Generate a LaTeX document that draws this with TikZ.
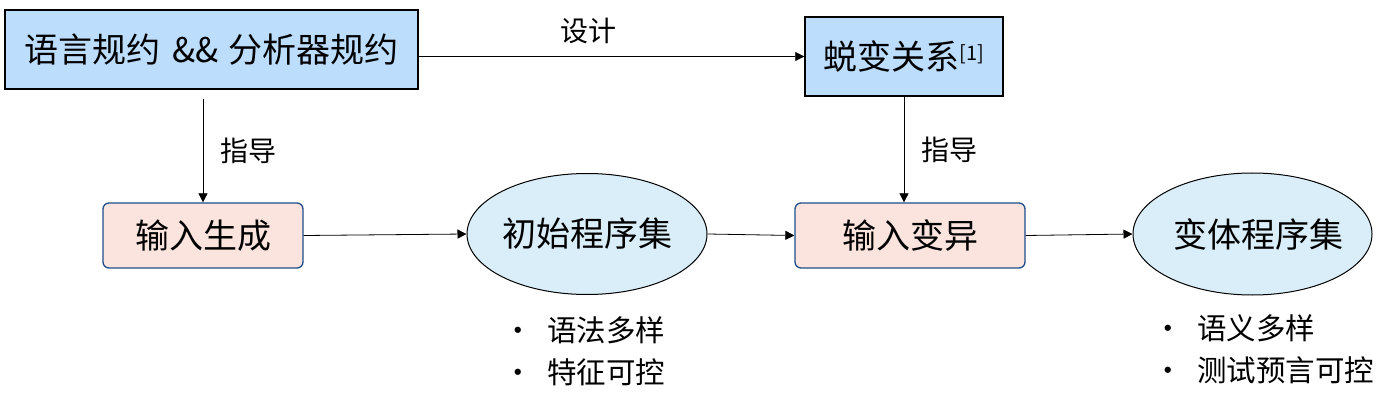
\documentclass[tikz,border=0pt]{standalone}
\usepackage{fontspec}
\setmainfont{Noto Sans CJK SC}
\usetikzlibrary{shapes.geometric,arrows.meta}
\definecolor{specblue}{HTML}{BDDDFD}
\definecolor{procpink}{HTML}{FBE4DE}
\definecolor{procline}{HTML}{1F4E8A}
\definecolor{setblue}{HTML}{DAEEF9}
\tikzset{
	specbox/.style={draw, line width=1.5pt, rectangle, fill=specblue, inner sep=0pt, font=\fontsize{34}{38}\selectfont},
	procbox/.style={draw=procline, line width=1.3pt, rectangle, rounded corners=6pt, fill=procpink, minimum width=200pt, minimum height=65pt, inner sep=0pt, font=\fontsize{34}{38}\selectfont},
	setnode/.style={draw, line width=1pt, ellipse, fill=setblue, minimum width=240pt, minimum height=121pt, inner sep=0pt, font=\fontsize{34}{38}\selectfont},
	flow/.style={line width=0.8pt, -{Triangle[length=9pt,width=9pt]}},
	tag/.style={font=\fontsize{28}{32}\selectfont},
	note/.style={font=\fontsize{29.5}{42}\selectfont, align=left, anchor=north west}
}
\begin{document}
\begin{tikzpicture}[x=1pt, y=-1pt]
				\useasboundingbox (0,0) rectangle (1389,406);
				\node[specbox, minimum width=413pt, minimum height=79pt] (A)at(211.5, 49.5) {语言规约\hspace{12pt}\&\&\hspace{10pt}分析器规约};
				\node[specbox, minimum width=198pt, minimum height=79pt] (B)at(904, 56.5) {蜕变关系\raisebox{0.5ex}{\fontsize{20}{22}\selectfont[1]}};
				\node[procbox] (C)at(203, 235.5) {输入生成};
				\node[setnode] (D)at(587, 234) {\makebox[150pt]{初始程序集}};
				\node[procbox, minimum width=230pt] (E)at(910, 235.5) {输入变异};
				\node[setnode, minimum width=239pt, minimum height=122pt] (F)at(1252.5, 234) {\makebox[150pt]{\hspace{12pt}变体程序集}};
				\node[note] (G)at(500, 313) {•\hspace{14pt}语法多样\\•\hspace{14pt}特征可控};
				\node[note] (H)at(1150, 311) {•\hspace{14pt}语义多样\\•\hspace{14pt}测试预言可控};
				\draw[flow] (A.east |- B.west) -- (B.west) node[pos=0.44, tag, above=9pt] {设计};
				\draw[flow] ([yshift=-9pt]A.south -| C.north) -- (C.north) node[midway, tag, right=14pt] {指导};
				\draw[flow] (B.south) -- (E.north -| B.south) node[midway, tag, right=14pt] {指导};
				\draw[flow] (C.east) -- (D.west);
				\draw[flow] (D.east) -- (E.west);
				\draw[flow] (E.east) -- (F.west);
			\end{tikzpicture}
\end{document}
